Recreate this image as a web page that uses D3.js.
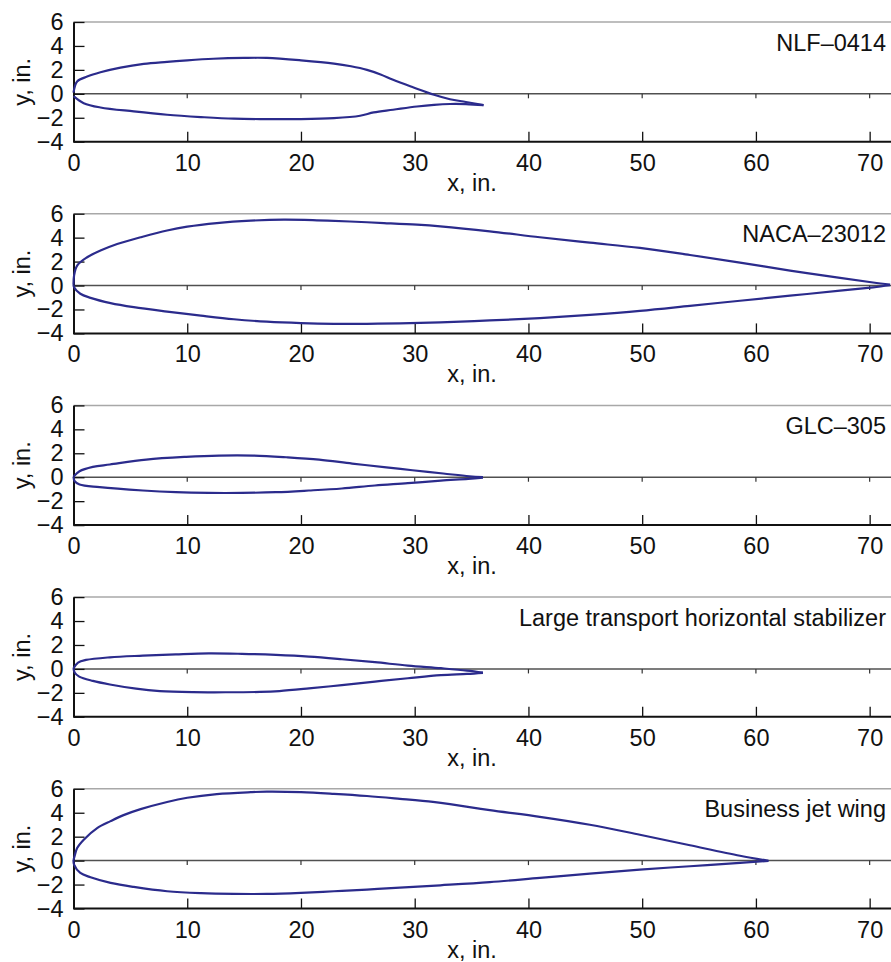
<!DOCTYPE html>
<html>
<head>
<meta charset="utf-8">
<script src="https://cdn.jsdelivr.net/npm/d3@7"></script>
<style>
  html, body { margin: 0; padding: 0; background: #fff; }
  svg { display: block; }
  text { font-family: "Liberation Sans", Arial, Helvetica, sans-serif; fill: #111; }
</style>
</head>
<body>
<svg id="chart" width="891" height="962"></svg>
<script>
// Airfoil section coordinates, inches: [x, y] for upper and lower surfaces
const panelTitles = ["NLF\u20130414", "NACA\u201323012", "GLC\u2013305",
  "Large transport horizontal stabilizer", "Business jet wing"];

const nlfUpper = [[0,0.1],[0.32,1.03],[1.2,1.44],[2.37,1.8],[4.13,2.19],[6.18,2.5],[8.23,2.67],
  [10,2.8],[12.3,2.93],[15,3.0],[17,3.0],[20,2.8],[22.9,2.53],[24.4,2.3],[25.8,2.0],[27,1.62],
  [28.1,1.17],[29.9,0.53],[31.7,-0.08],[33.1,-0.45],[34.5,-0.68],[36.05,-0.95]];
const nlfLower = [[0,-0.2],[0.9,-0.78],[2.37,-1.14],[5.3,-1.47],[8.23,-1.75],[11.2,-1.94],
  [14.1,-2.08],[17,-2.11],[20,-2.11],[22.9,-2.03],[25.2,-1.83],[26.4,-1.55],[28.1,-1.33],
  [30.2,-1.06],[31.7,-0.92],[33.1,-0.85],[34.5,-0.86],[36.05,-0.95]];

const nacaUpper = [[0,0.1],[0.05,0.83],[0.32,1.67],[1.2,2.36],[2.37,2.92],[3.84,3.47],[5.9,4.03],
  [8.23,4.6],[10,4.92],[12.6,5.22],[15.6,5.42],[18.5,5.5],[21.4,5.45],[24.3,5.35],[27.3,5.22],
  [30.2,5.08],[32.25,4.94],[36.6,4.53],[41,4.03],[45.4,3.58],[49.8,3.14],[54.2,2.55],[58.6,1.92],
  [63,1.25],[67.4,0.64],[70.3,0.25],[71.8,0.08]];
const nacaLower = [[0,0.1],[0.05,-0.14],[0.6,-0.69],[1.5,-1.03],[3.26,-1.47],[5.3,-1.81],
  [8.23,-2.18],[11.2,-2.52],[14.1,-2.82],[17,-3.02],[20,-3.14],[22.9,-3.2],[25.8,-3.2],
  [28.7,-3.16],[32.25,-3.08],[36.6,-2.92],[41,-2.72],[45.4,-2.45],[49.8,-2.12],[54.2,-1.7],
  [58.6,-1.27],[63,-0.85],[67.4,-0.43],[70.3,-0.15],[71.8,0.02]];

const glcUpper = [[0,0.05],[0.53,0.5],[1.7,0.86],[3.2,1.06],[6.4,1.47],[9.9,1.7],[12.8,1.81],
  [15.8,1.81],[18.7,1.67],[21.6,1.47],[24.5,1.14],[27.5,0.83],[29.8,0.58],[32.5,0.31],
  [34.8,0.08],[36,0]];
const glcLower = [[0,0.05],[0.1,-0.33],[0.53,-0.61],[2.3,-0.83],[6.1,-1.11],[9,-1.25],[11.9,-1.31],
  [14.8,-1.31],[17.8,-1.25],[20.7,-1.11],[23.6,-0.94],[26.5,-0.69],[29.4,-0.5],[32.3,-0.28],
  [34.7,-0.14],[36,-0.03]];

const stabUpper = [[0,0.06],[0.4,0.53],[1.1,0.75],[3.2,0.97],[6.1,1.11],[9,1.22],[11.9,1.3],
  [14.8,1.26],[17.8,1.17],[20.7,1.03],[23.6,0.81],[26.5,0.56],[29.4,0.28],[32.3,0.06],
  [34.6,-0.14],[36,-0.31]];
const stabLower = [[0,0.06],[0.1,-0.3],[0.5,-0.64],[1.7,-1.0],[3.2,-1.3],[5.5,-1.65],[7.6,-1.85],
  [10.5,-1.94],[13.4,-1.95],[16.4,-1.92],[18.1,-1.85],[20.7,-1.63],[23.6,-1.35],[26.5,-1.06],
  [29.4,-0.78],[32.3,-0.52],[34.6,-0.42],[36,-0.33]];

const bizUpper = [[0,0.05],[0.05,0.22],[0.32,1.05],[0.9,1.75],[2.08,2.72],[3.26,3.3],[4.4,3.8],
  [5.9,4.3],[8.23,4.9],[10,5.25],[12.6,5.56],[15.6,5.72],[17,5.76],[20,5.72],[22.9,5.58],
  [25.8,5.4],[28.7,5.16],[31.6,4.9],[33.1,4.72],[36.6,4.22],[41,3.66],[45.4,3.0],
  [49.8,2.16],[54.2,1.28],[58.6,0.41],[61.1,-0.02]];
const bizLower = [[0,0.05],[0.05,-0.33],[0.6,-1.03],[1.5,-1.39],[3.26,-1.86],[5.3,-2.2],
  [8.23,-2.56],[11.2,-2.72],[14.1,-2.78],[17,-2.78],[20,-2.69],[22.9,-2.56],[25.8,-2.42],
  [28.7,-2.25],[32.25,-2.06],[36.6,-1.8],[41,-1.44],[45.4,-1.08],[49.8,-0.75],[54.2,-0.47],
  [58.6,-0.19],[61.1,-0.02]];

const sections = [
  [nlfUpper, nlfLower], [nacaUpper, nacaLower], [glcUpper, glcLower],
  [stabUpper, stabLower], [bizUpper, bizLower]
];

const xTicks = [0, 10, 20, 30, 40, 50, 60, 70];
const yTicks = [-4, -2, 0, 2, 4, 6];
const xDomain = [0, 72];
const yDomain = [-4, 6];

// Layout
const svg = d3.select("#chart");
const left = 73.5, right = 892.4;
const firstTop = 22, panelStep = 191.7, panelH = 119.7;
const fontSize = 23.5;
const lineColor = "#2b2b8c";
const fmt = d => d < 0 ? "\u2212" + Math.abs(d) : String(d);

const x = d3.scaleLinear().domain(xDomain).range([left, right]);

sections.forEach((surfaces, i) => {
  const top = firstTop + i * panelStep;
  const bottom = top + panelH;
  const y = d3.scaleLinear().domain(yDomain).range([bottom, top]);
  const g = svg.append("g");

  // top frame line
  g.append("line").attr("x1", left).attr("x2", 891).attr("y1", top).attr("y2", top)
    .attr("stroke", "#a8a8a8").attr("stroke-width", 1.5);

  // chord reference line at y = 0, with short ticks below it
  g.append("line").attr("x1", left).attr("x2", 891).attr("y1", y(0)).attr("y2", y(0))
    .attr("stroke", "#505050").attr("stroke-width", 1.5);
  g.selectAll(".zt").data(xTicks.filter(t => t > 0)).enter().append("line")
    .attr("x1", d => x(d)).attr("x2", d => x(d))
    .attr("y1", y(0)).attr("y2", y(0) + 4.5)
    .attr("stroke", "#333").attr("stroke-width", 1.2);

  // bottom axis
  const xAxis = d3.axisBottom(x).tickValues(xTicks).tickFormat(fmt)
    .tickSizeInner(-10).tickSizeOuter(0).tickPadding(14);
  const xa = g.append("g").attr("transform", `translate(0,${bottom})`).call(xAxis);
  xa.select(".domain").remove();
  xa.append("line").attr("x1", left).attr("x2", 891).attr("y1", 0).attr("y2", 0)
    .attr("stroke", "#111").attr("stroke-width", 2);
  xa.selectAll(".tick line").attr("stroke", "#111").attr("stroke-width", 1.3);
  xa.selectAll(".tick text").attr("font-size", fontSize).attr("fill", "#111")
    .attr("y", 29).attr("dy", 0);

  // left axis
  const yAxis = d3.axisLeft(y).tickValues(yTicks).tickFormat(fmt)
    .tickSizeInner(-11).tickSizeOuter(0).tickPadding(11);
  const ya = g.append("g").attr("transform", `translate(${left},0)`).call(yAxis);
  ya.select(".domain").attr("stroke", "#111").attr("stroke-width", 2);
  ya.selectAll(".tick line").attr("stroke", "#111").attr("stroke-width", 1.3);
  ya.selectAll(".tick text").attr("font-size", fontSize).attr("fill", "#111").attr("x", -10);

  // axis titles
  g.append("text").attr("x", 472).attr("y", bottom + 49)
    .attr("text-anchor", "middle").attr("font-size", fontSize).text("x, in.");
  g.append("text")
    .attr("transform", `translate(30,${(top + bottom) / 2}) rotate(-90)`)
    .attr("text-anchor", "middle").attr("font-size", fontSize).text("y, in.");

  // section name
  g.append("text").attr("x", 886).attr("y", top + 28.5)
    .attr("text-anchor", "end").attr("font-size", fontSize).text(panelTitles[i]);

  // airfoil contour
  const line = d3.line().x(d => x(d[0])).y(d => y(d[1])).curve(d3.curveCatmullRom.alpha(0.5));
  surfaces.forEach(s => {
    g.append("path").datum(s).attr("d", line)
      .attr("fill", "none").attr("stroke", lineColor).attr("stroke-width", 2.2)
      .attr("stroke-linejoin", "round");
  });
});
</script>
</body>
</html>
